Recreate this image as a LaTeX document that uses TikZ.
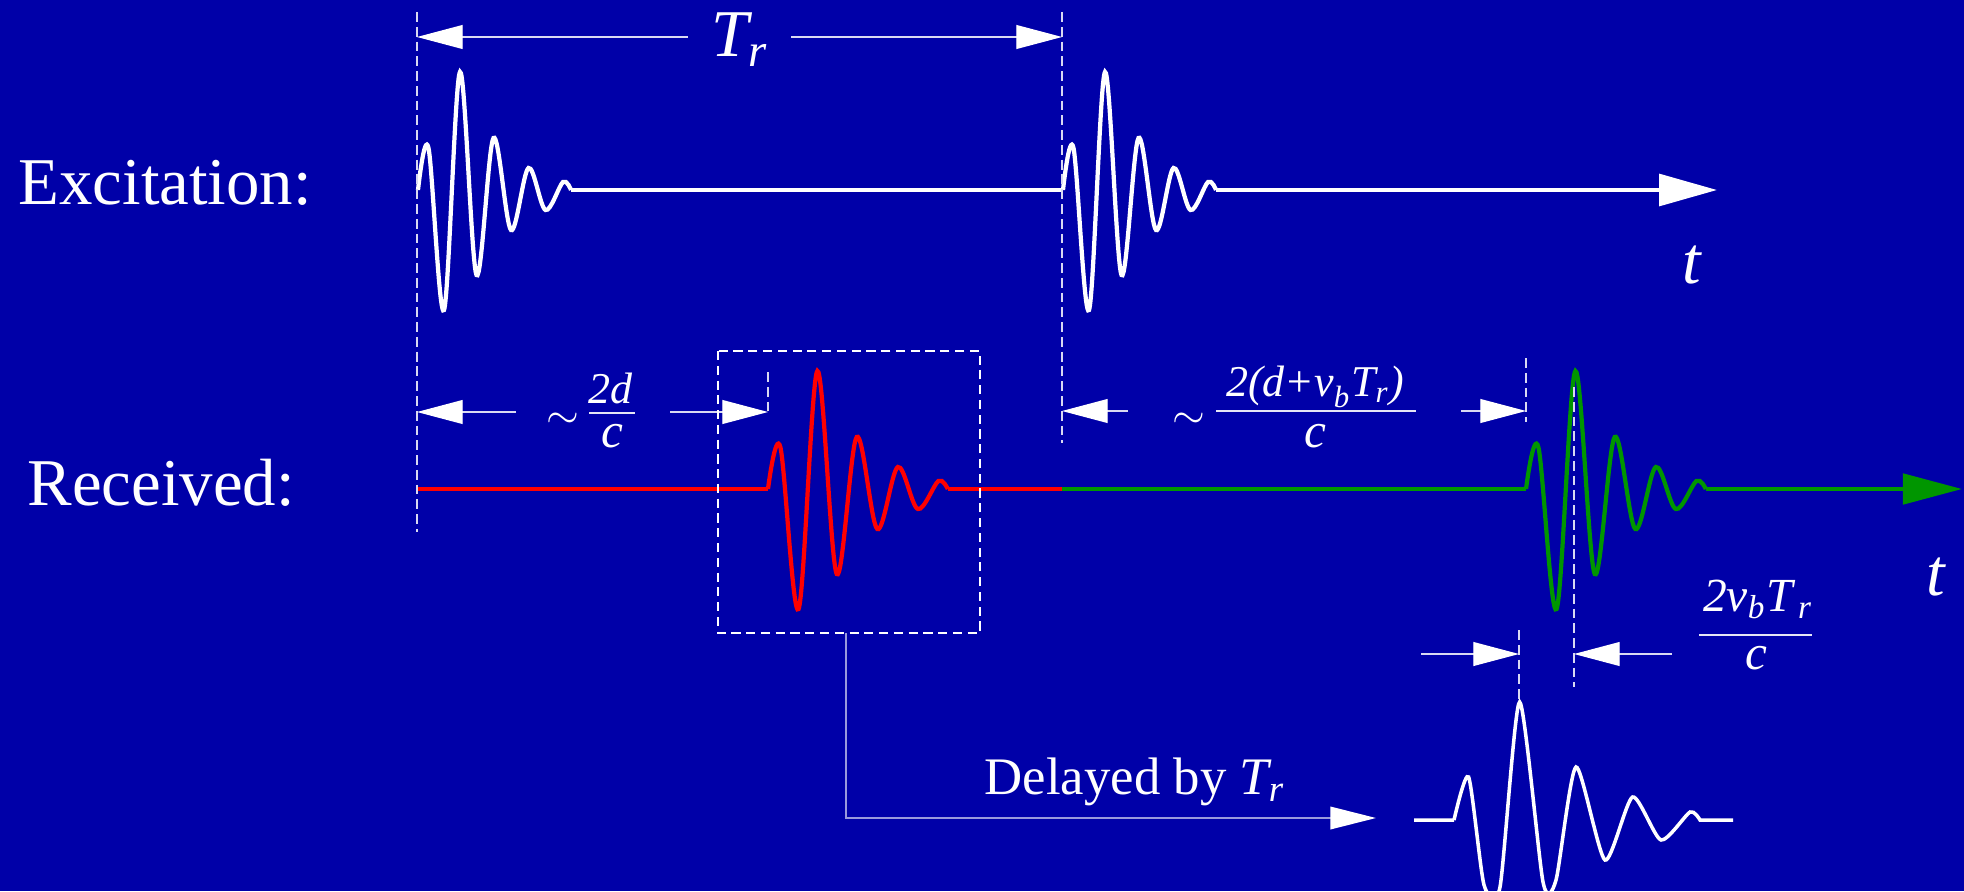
\documentclass[tikz,border=0pt]{standalone}
\usepackage{amsmath}
\usepackage{fontspec}
\setmainfont{Liberation Serif}
\usepackage{tikz}
\usetikzlibrary{arrows.meta}
\definecolor{bgblue}{RGB}{0,0,168}
\definecolor{recred}{RGB}{255,0,0}
\definecolor{recgreen}{RGB}{0,150,0}
\newcommand{\mi}[1]{\textit{#1}}
\tikzset{
  pulse/.pic={\draw[pic actions] plot[smooth, tension=0.55] coordinates
    {(0,0) (10.5,-42) (26,120) (42,-118) (58.5,85) (75.5,-52) (93,40)
     (110.5,-22) (127.5,20) (145,-8) (153,0)};},
  exwave/.style={draw=white, line width=1.2pt},
  redwave/.style={draw=recred, line width=1.2pt},
  greenwave/.style={draw=recgreen, line width=1.2pt},
  dimline/.style={draw=white!85!bgblue, line width=0.35pt,
    -{Triangle[length=13pt, width=6.8pt, color=white]}},
  guide/.style={draw=white!85!bgblue, line width=0.35pt, dash pattern=on 2.8pt off 1.4pt},
  boxline/.style={draw=white, line width=0.6pt, dash pattern=on 2.6pt off 1.6pt},
  fracbar/.style={draw=white!90!bgblue, line width=0.5pt},
  lbl/.style={text=white, inner sep=0pt, font=\fontsize{19}{22}\selectfont},
  bigmath/.style={text=white, inner sep=0pt, font=\fontsize{19}{22}\selectfont},
  fracnum/.style={text=white, inner sep=0pt, anchor=base, font=\fontsize{12.5}{15}\selectfont},
  fracden/.style={text=white, inner sep=0pt, anchor=base, font=\fontsize{14}{16}\selectfont},
  midtext/.style={text=white, inner sep=0pt, font=\fontsize{15}{18}\selectfont}
}
\begin{document}
\begin{tikzpicture}[x=0.01cm, y=-0.01cm]
    \useasboundingbox (0,0) rectangle (1964,891);
    % Background
    \fill[bgblue] (0,0) rectangle (1964,891);
    % Row labels
    \node[lbl, anchor=base west] (exc) at (18,205) {Excitation:};
    \node[lbl, anchor=base west] (rec) at (27,505) {Received:};
    % Excitation axis
    \coordinate (e0) at (418,190);
    \coordinate (e1) at (571,190);
    \coordinate (e2) at (1063,190);
    \coordinate (e3) at (1216,190);
    \coordinate (eEnd) at (1717,190);
    \pic[exwave] at (e0) {pulse};
    \draw[exwave] (e1) -- (e2);
    \pic[exwave] at (e2) {pulse};
    \draw[exwave, -{Triangle[length=16.5pt, width=9pt]}] (e3) -- (eEnd);
    \node[bigmath, anchor=base] (t1) at (1692,283) {$\mi{t}$};
    % Received axis
    \coordinate (r0) at (417,489);
    \coordinate (r1) at (768,489);
    \coordinate (r2) at (948,489);
    \coordinate (r3) at (1062,489);
    \coordinate (r4) at (1526,489);
    \coordinate (r5) at (1706,489);
    \coordinate (rEnd) at (1962,489);
    \draw[redwave] (r0) -- (r1);
    \pic[redwave, xscale=1.175] at (r1) {pulse};
    \draw[redwave] (r2) -- (r3);
    \draw[greenwave] (r3) -- (r4);
    \pic[greenwave, xscale=1.175] at (r4) {pulse};
    \draw[greenwave, -{Triangle[length=16.8pt, width=8.6pt]}] (r5) -- (rEnd);
    \node[bigmath, anchor=base] (t2) at (1936,595) {$\mi{t}$};
    % Guide lines
    \draw[guide] (417,12) -- (417,532);
    \draw[guide] (1062,12) -- (1062,443);
    \draw[guide] (768,372) -- (768,412);
    \draw[guide] (1526,358) -- (1526,422);
    \draw[guide] (1519,630) -- (1519,700);
    \draw[guide] (1574,387) -- (1574,687);
    % Period T_r
    \node[bigmath, anchor=base] (Tr) at (740,57) {$\mi{T}_{\mi{r}}$};
    \coordinate (TrL) at (688,37);
    \coordinate (TrR) at (791,37);
    \draw[dimline] (TrL) -- (417,37);
    \draw[dimline] (TrR) -- (1062,37);
    % First echo delay
    \node[fracnum] (s1) at (563,428) {$\sim$};
    \node[fracnum] (f1n) at (611,403) {\mi{2d}};
    \node[fracden] (f1d) at (612,447) {\mi{c}};
    \draw[fracbar] (589,413) coordinate (f1L) -- (635,413) coordinate (f1R);
    \coordinate (d1a) at (516,412);
    \coordinate (d1b) at (670,412);
    \draw[dimline] (d1a) -- (417,412);
    \draw[dimline] (d1b) -- (768,412);
    % Second echo delay
    \node[fracnum] (s2) at (1189,428) {$\sim$};
    \node[fracnum] (f2n) at (1315,396) {$\mi{2(d+v}_{\mi{b}}\mi{T}_{\mi{r}}\mi{)}$};
    \node[fracden] (f2d) at (1315,447) {\mi{c}};
    \draw[fracbar] (1216,411) coordinate (f2L) -- (1416,411) coordinate (f2R);
    \coordinate (d2a) at (1128,411);
    \coordinate (d2b) at (1461,411);
    \draw[dimline] (d2a) -- (1062,411);
    \draw[dimline] (d2b) -- (1526,411);
    % Shift between echoes
    \node[fracnum, font=\fontsize{13.5}{16}\selectfont] (f3n) at (1758,611) {$\mi{2v}_{\mi{b}}\mi{T}_{\,\mi{r}}$};
    \node[fracden] (f3d) at (1756,669) {\mi{c}};
    \draw[fracbar] (1699,635) coordinate (f3L) -- (1812,635) coordinate (f3R);
    \coordinate (d3a) at (1421,654);
    \coordinate (d3b) at (1672,654);
    \draw[dimline] (d3a) -- (1519,654);
    \draw[dimline] (d3b) -- (1574,654);
    % Selected echo and its delayed copy
    \coordinate (boxNW) at (718,351);
    \coordinate (boxSE) at (980,633);
    \coordinate (boxOut) at (846,633);
    \coordinate (dlyTip) at (1376,818);
    \draw[boxline] (boxNW) rectangle (boxSE);
    \draw[draw=white!60!bgblue, line width=0.6pt, -{Triangle[length=13pt, width=6.4pt, color=white]}] (boxOut) |- (dlyTip);
    \node[midtext, anchor=base west] (dly) at (984,794) {Delayed by $\mi{T}_{\mi{r}}$};
    \draw[white, line width=1pt] (1414,820) -- (1454,820)
      plot[smooth, tension=0.4] coordinates {(1454,820) (1468.6,777) (1484,885) (1500,887)
        (1519.6,702) (1543,882) (1556,880) (1576,767) (1605,860) (1632.6,797)
        (1661,840) (1690,812) (1700,820)} -- (1733,820);
\end{tikzpicture}
\end{document}
